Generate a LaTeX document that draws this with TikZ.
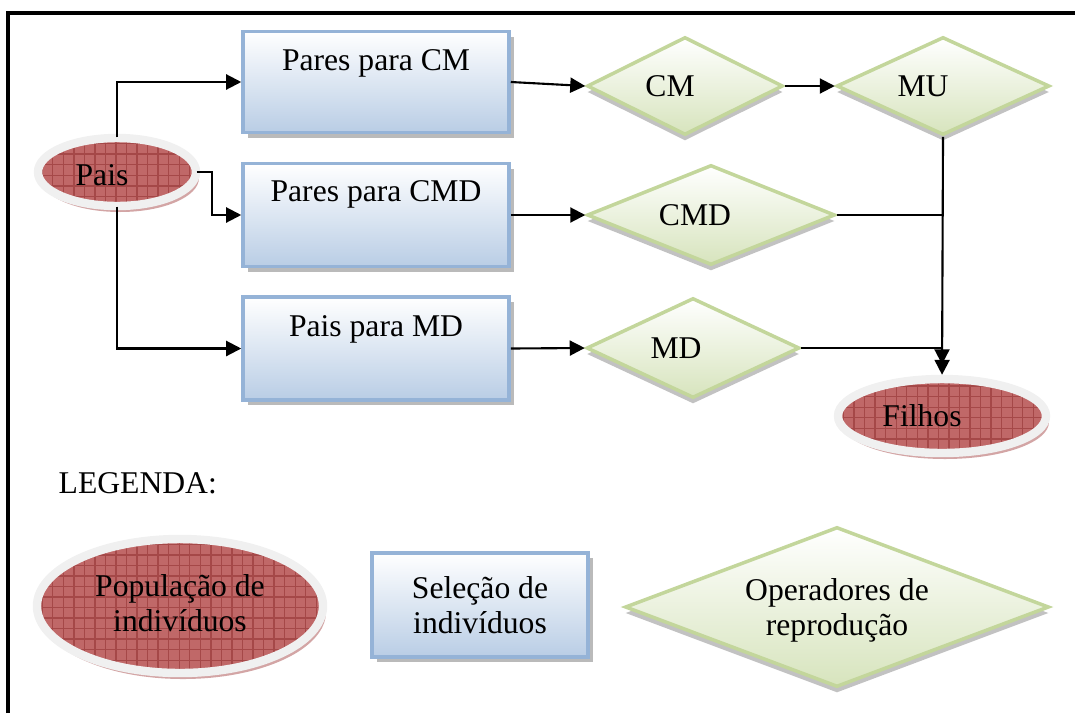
\documentclass[tikz,border=0pt]{standalone}
\usepackage{fontspec}
\setmainfont{Liberation Serif}
\usepackage{xcolor}
\usepackage{tikz}
\usetikzlibrary{shapes.geometric}
\usetikzlibrary{positioning, arrows.meta, shadows, patterns}

\definecolor{popred}{RGB}{192,104,104}
\definecolor{popgrid}{RGB}{165,72,72}
\definecolor{selborda}{RGB}{149,179,215}
\definecolor{selfundo}{RGB}{185,205,229}
\definecolor{opborda}{RGB}{195,214,155}
\definecolor{opfundo}{RGB}{215,228,189}

\begin{document}
\begin{tikzpicture}[font=\fontsize{9}{10}\selectfont]
\tikzstyle{every node}+=[inner sep=0pt]
\tikzstyle{populacao}=[ellipse, fill=popred,
  postaction={pattern=grid, pattern color=popgrid},
  postaction={draw=black!6, line width=2.4pt},
  drop shadow={shadow xshift=0.3mm, shadow yshift=-0.6mm, fill=popgrid!70, opacity=0.7}]
\tikzstyle{selecao}=[rectangle, draw=selborda, line width=1pt,
  top color=white, bottom color=selfundo,
  drop shadow={shadow xshift=0.5mm, shadow yshift=-0.5mm, fill=black!45, opacity=0.6}]
\tikzstyle{operador}=[diamond, draw=opborda, line width=1pt,
  top color=white, bottom color=opfundo,
  drop shadow={shadow xshift=0mm, shadow yshift=-0.6mm, fill=black!40, opacity=0.6}]
\tikzstyle{seta}=[line width=0.6pt, -{Triangle[length=1.5mm, width=1.5mm]}]
\tikzstyle{linha}=[line width=0.6pt]

\useasboundingbox (0,0) rectangle (10.75,-7.13);
% moldura
\draw [line width=1pt] (0.08,-7.13) -- (0.08,-0.13) -- (10.75,-0.13);

% populacoes
\node [populacao, minimum width=1.58cm, minimum height=0.68cm,
  label={[xshift=-1.5mm, yshift=-0.3mm]center:Pais}] (pais) at (1.17,-1.72) {};
\node [populacao, minimum width=2.08cm, minimum height=0.74cm,
  label={[xshift=-2mm]center:Filhos}] (filhos) at (9.42,-4.16) {};

% selecao
\node [selecao, minimum width=2.66cm, minimum height=1.01cm,
  label={[anchor=center, yshift=-3.4mm]north:Pares para CM}] (paresCM) at (3.76,-0.82) {};
\node [selecao, minimum width=2.66cm, minimum height=1.03cm,
  label={[anchor=center, yshift=-3.3mm]north:Pares para CMD}] (paresCMD) at (3.76,-2.15) {};
\node [selecao, minimum width=2.66cm, minimum height=1.03cm,
  label={[anchor=center, yshift=-3.4mm]north:Pais para MD}] (paisMD) at (3.76,-3.485) {};

% operadores
\node [operador, minimum width=1.96cm, minimum height=0.98cm,
  label={[xshift=-1.5mm]center:CM}] (cm) at (6.85,-0.86) {};
\node [operador, minimum width=2.13cm, minimum height=0.98cm,
  label={[xshift=-2mm]center:MU}] (mu) at (9.43,-0.86) {};
\node [operador, minimum width=2.48cm, minimum height=1.00cm,
  label={[xshift=-1.6mm]center:CMD}] (cmd) at (7.11,-2.15) {};
\node [operador, minimum width=2.13cm, minimum height=1.00cm,
  label={[xshift=-1.7mm]center:MD}] (md) at (6.93,-3.48) {};

% ligacoes
\draw [seta] (pais.north) |- (paresCM.west);
\draw [seta] (pais.east) -- ++(0.15,0) |- (paresCMD.west);
\draw [seta] (pais.south) |- (paisMD.west);
\draw [seta] (paresCM.east) -- (cm.west);
\draw [seta] (paresCMD.east) -- (cmd.west);
\draw [seta] (paisMD.east) -- (md.west);
\draw [seta] (cm.east) -- (mu.west);
\draw [seta, shorten >=1pt] (mu.south) -- (filhos.north);
\draw [linha] (cmd.east) -- (cmd.east -| mu.south);
\draw [seta] (md.east) -| ([yshift=1.4mm]filhos.north);

% legenda
\node [anchor=west] (legenda) at (0.58,-4.83) {LEGENDA:};
\node [populacao, minimum width=2.86cm, minimum height=1.34cm,
  label={[align=center, yshift=0.3mm]center:População de\\indivíduos}] (legPop) at (1.80,-6.06) {};
\node [selecao, minimum width=2.16cm, minimum height=1.04cm,
  align=center] (legSel) at (4.80,-6.05) {Seleção de\\indivíduos};
\node [operador, minimum width=4.24cm, minimum height=1.60cm,
  label={[align=center, yshift=-0.3mm]center:Operadores de\\reprodução}] (legOp) at (8.37,-6.07) {};
\end{tikzpicture}
\end{document}
